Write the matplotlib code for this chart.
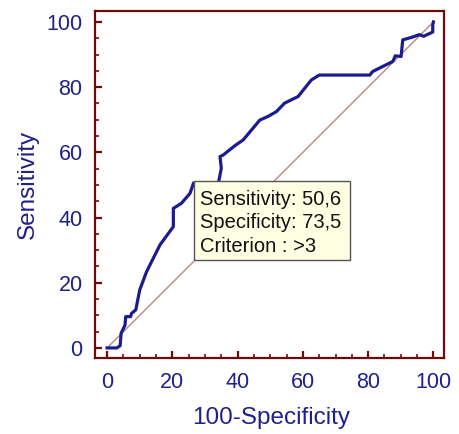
import matplotlib
matplotlib.use("Agg")
import matplotlib.pyplot as plt
from matplotlib.ticker import MultipleLocator
from matplotlib.patches import Rectangle

# ROC curve data (100-Specificity, Sensitivity)
fpr = [0, 3, 4, 4.3, 5.5, 5.7, 7.2, 7.5, 8.8, 10, 12.1, 16.2, 20.3, 20.3, 22.8,
       25.4, 26.5, 33.5, 34.2, 35.0, 34.6, 35.6, 39.1, 41.7, 46.8, 49.3, 51.9,
       54.4, 58.5, 62.6, 65.0, 80.5, 81.4, 87.6, 88.3, 90.1, 90.6, 93.4, 95.7,
       97.0, 99.8, 99.8, 100]
sens = [0, 0, 0.7, 4.5, 7, 9.6, 9.6, 10.6, 11.7, 17.8, 23.4, 31.6, 37.2, 42.8, 44.4,
        47.4, 50.6, 50.6, 51.0, 55.1, 58.7, 59.2, 62.0, 63.8, 69.9, 71.0, 72.5,
        75.1, 77.1, 82.2, 83.7, 83.7, 84.8, 87.9, 89.6, 89.4, 94.5, 95.3, 96.1,
        95.6, 96.9, 99.1, 100]
ref_line = [0, 100]
ticks = [0, 20, 40, 60, 80, 100]

# Selected criterion point
crit_fpr = 26.5
crit_sens = 50.6
box_lines = ["Sensitivity: 50,6", "Specificity: 73,5", "Criterion : >3"]

navy = "#20208a"
maroon = "#6e0a0a"

plt.rcParams['font.family'] = ['Liberation Sans', 'DejaVu Sans']

fig = plt.figure(figsize=(4.59, 4.34), dpi=100)
ax = fig.add_axes([0.207, 0.175, 0.760, 0.800])

ax.plot(ref_line, ref_line, color="#c08585", lw=1.0, zorder=2)
ax.plot(fpr, sens, color="#1c1c8c", lw=2.3, solid_joinstyle='round', zorder=3)

ax.set_xlim(-3.7, 103.2)
ax.set_ylim(-3.1, 103.4)
ax.xaxis.set_major_locator(MultipleLocator(20))
ax.yaxis.set_major_locator(MultipleLocator(20))
ax.xaxis.set_minor_locator(MultipleLocator(5))
ax.yaxis.set_minor_locator(MultipleLocator(5))
ax.set_xticks(ticks)
ax.set_yticks(ticks)

for s in ax.spines.values():
    s.set_color(maroon)
    s.set_linewidth(1.6)

ax.tick_params(which='major', direction='in', length=5, width=1.6, color=maroon,
               labelsize=15.5, labelcolor=navy, top=False, right=False)
ax.tick_params(which='minor', direction='in', length=2.6, width=1.2, color=maroon,
               top=False, right=False)
ax.tick_params(axis='x', which='major', pad=10)
ax.tick_params(axis='y', which='major', pad=9)

ax.set_xlabel("100-Specificity", fontsize=17.5, color=navy, va='center')
ax.set_ylabel("Sensitivity", fontsize=17.5, color=navy, va='center')
ax.xaxis.set_label_coords(0.504, -0.173)
ax.yaxis.set_label_coords(-0.192, 0.5)

# Info box anchored at the criterion point (covers the curve segment at the point)
box_w, box_h = 48.0, 24.2
box_top = crit_sens + 0.6
ax.add_patch(Rectangle((crit_fpr, box_top - box_h), box_w, box_h,
                       facecolor="#ffffe3", edgecolor="#555555", lw=1.0, zorder=4))
for i, line in enumerate(box_lines):
    ax.text(crit_fpr + 1.9, crit_sens - 6.7 - i * 7.2, line, fontsize=14.5,
            color="#111111", va='baseline', ha='left', zorder=5)

fig.savefig("out.png", dpi=100)
